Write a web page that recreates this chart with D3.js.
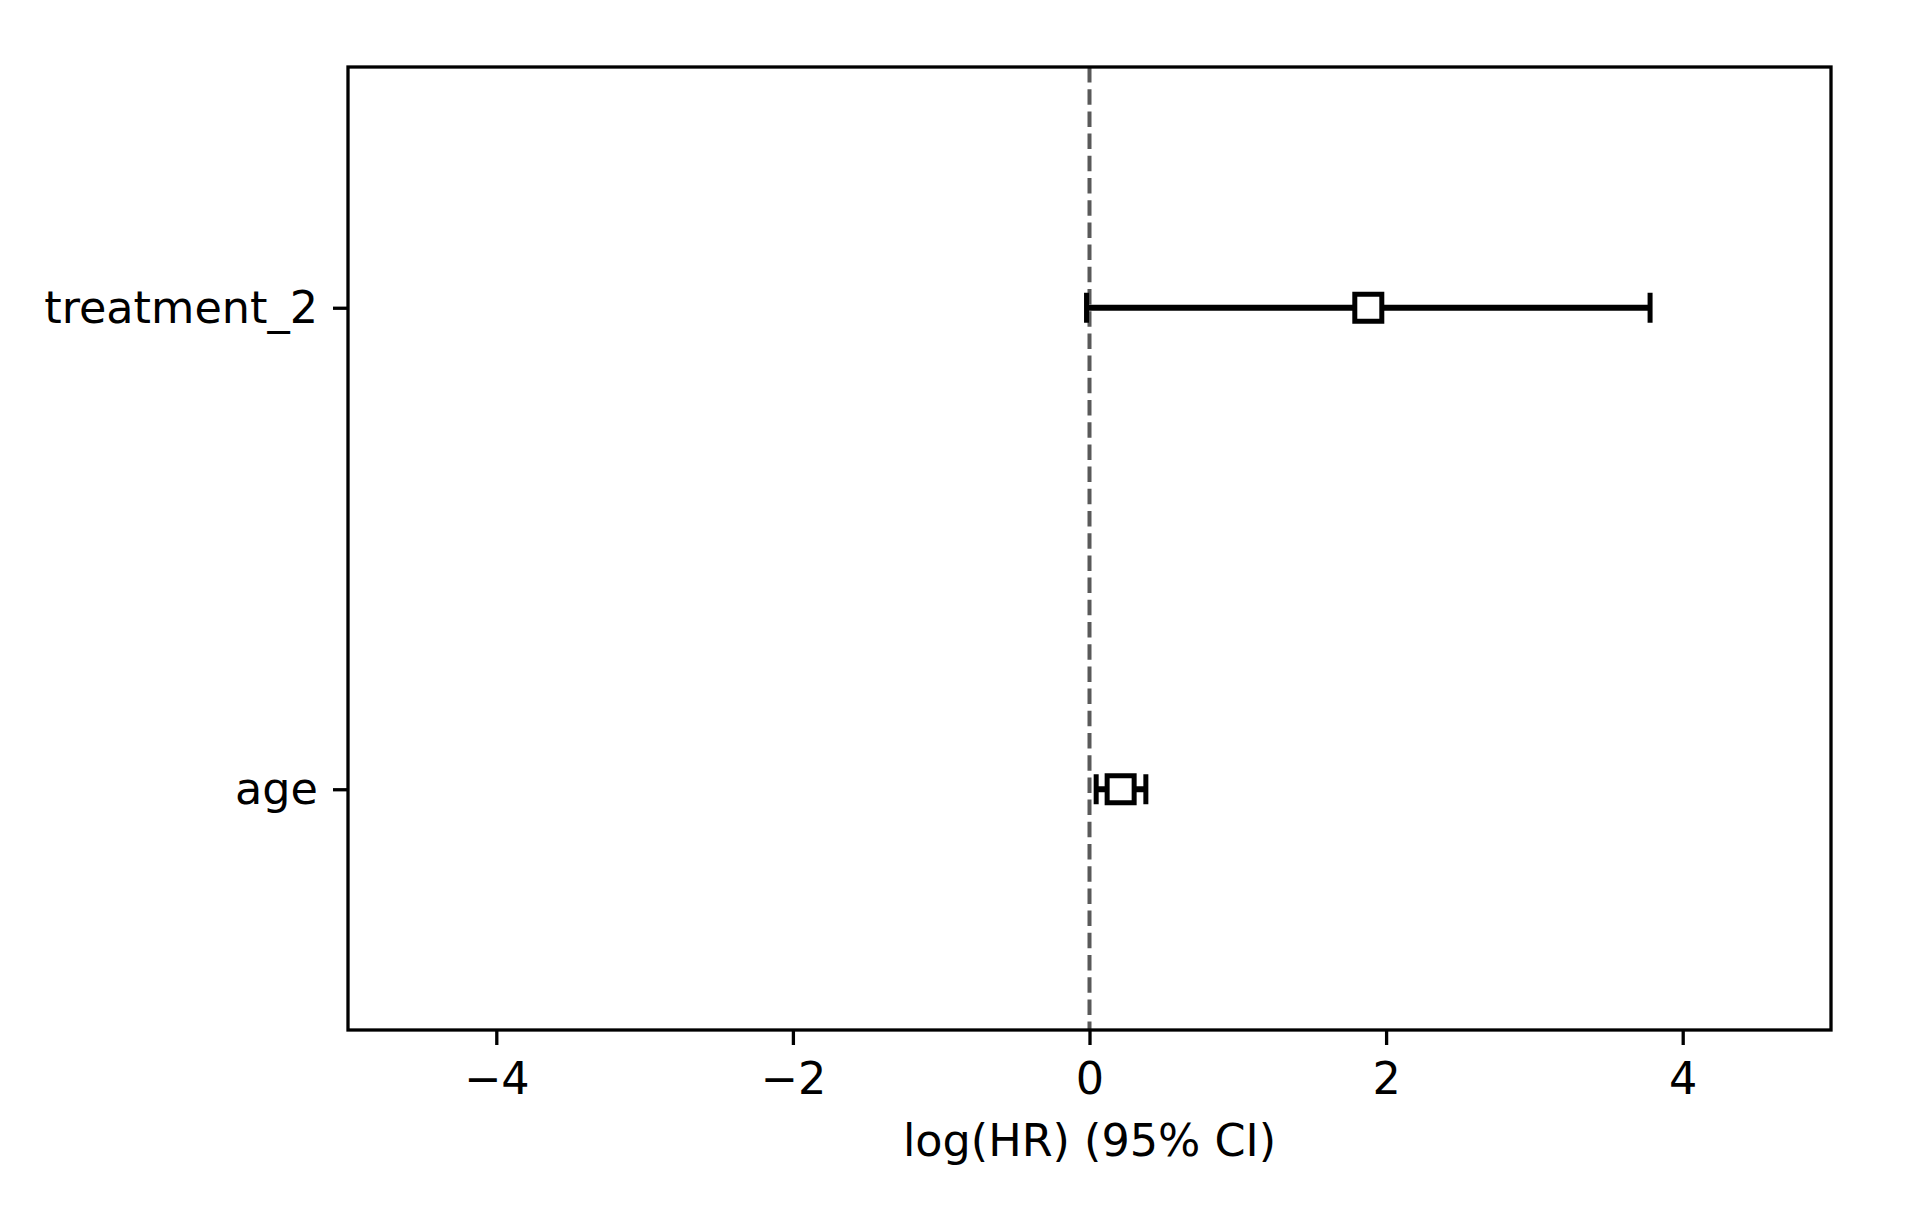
<!DOCTYPE html>
<html>
<head>
<meta charset="utf-8">
<script src="https://cdn.jsdelivr.net/npm/d3@7"></script>
<style>
  body { margin: 0; background: #fff; }
  text { font-family: "DejaVu Sans", sans-serif; }
</style>
</head>
<body>
<div id="chart"></div>
<script>
// covariates, from bottom to top
var covariates = ["age", "treatment_2"];
var coef = [0.21, 1.88];
var lower = [0.045, -0.02];
var upper = [0.38, 3.78];
var xTicks = [-4, -2, 0, 2, 4];

var W = 1920, H = 1222;
var margin = {top: 67, right: 89, bottom: 192, left: 348};
var width = W - margin.left - margin.right;
var height = H - margin.top - margin.bottom;

var svg = d3.select("#chart").append("svg")
  .attr("width", W)
  .attr("height", H)
  .style("background", "#fff");

var g = svg.append("g")
  .attr("transform", "translate(" + margin.left + "," + margin.top + ")");

var x = d3.scaleLinear().domain([-5, 5]).range([0, width]);
var y = d3.scaleLinear().domain([-0.5, covariates.length - 0.5]).range([height, 0]);

// reference line at zero
g.append("line")
  .attr("x1", x(0)).attr("x2", x(0))
  .attr("y1", 0).attr("y2", height)
  .attr("stroke", "#595959")
  .attr("stroke-width", 4)
  .attr("stroke-dasharray", "15.5,6.7");

var rows = covariates.map(function(c, i) {
  return {name: c, coef: coef[i], lo: lower[i], hi: upper[i], pos: i};
});

// error bars
g.selectAll("line.ci")
  .data(rows)
  .enter().append("line")
  .attr("class", "ci")
  .attr("x1", function(d) { return x(d.lo); })
  .attr("x2", function(d) { return x(d.hi); })
  .attr("y1", function(d) { return y(d.pos); })
  .attr("y2", function(d) { return y(d.pos); })
  .attr("stroke", "#000")
  .attr("stroke-width", 6);

var capH = 15;
["lo", "hi"].forEach(function(k) {
  g.selectAll("line.cap-" + k)
    .data(rows)
    .enter().append("line")
    .attr("class", "cap-" + k)
    .attr("x1", function(d) { return x(d[k]); })
    .attr("x2", function(d) { return x(d[k]); })
    .attr("y1", function(d) { return y(d.pos) - capH; })
    .attr("y2", function(d) { return y(d.pos) + capH; })
    .attr("stroke", "#000")
    .attr("stroke-width", 5);
});

// point estimates
var box = 27;
g.selectAll("rect.est")
  .data(rows)
  .enter().append("rect")
  .attr("class", "est")
  .attr("x", function(d) { return x(d.coef) - box / 2; })
  .attr("y", function(d) { return y(d.pos) - box / 2; })
  .attr("width", box)
  .attr("height", box)
  .attr("fill", "#fff")
  .attr("stroke", "#000")
  .attr("stroke-width", 5);

// axes
var xAxis = d3.axisBottom(x)
  .tickValues(xTicks)
  .tickSize(15)
  .tickPadding(17)
  .tickFormat(function(d) { return d < 0 ? "\u2212" + Math.abs(d) : d; });

var gx = g.append("g")
  .attr("transform", "translate(0," + height + ")")
  .call(xAxis);

var yAxis = d3.axisLeft(y)
  .tickValues(d3.range(covariates.length))
  .tickSize(15)
  .tickPadding(15)
  .tickFormat(function(d) { return covariates[d]; });

var gy = g.append("g").call(yAxis);

[gx, gy].forEach(function(a) {
  a.select(".domain").remove();
  a.selectAll("line").attr("stroke", "#000").attr("stroke-width", 3.3);
  a.selectAll("text")
    .attr("fill", "#000")
    .style("font-size", "44.5px")
    .style("font-family", "DejaVu Sans");
});

// frame
g.append("rect")
  .attr("x", 0).attr("y", 0)
  .attr("width", width).attr("height", height)
  .attr("fill", "none")
  .attr("stroke", "#000")
  .attr("stroke-width", 3.3);

g.append("text")
  .attr("x", width / 2)
  .attr("y", height + 126)
  .attr("text-anchor", "middle")
  .style("font-size", "44.5px")
  .text("log(HR) (95% CI)");
</script>
</body>
</html>
